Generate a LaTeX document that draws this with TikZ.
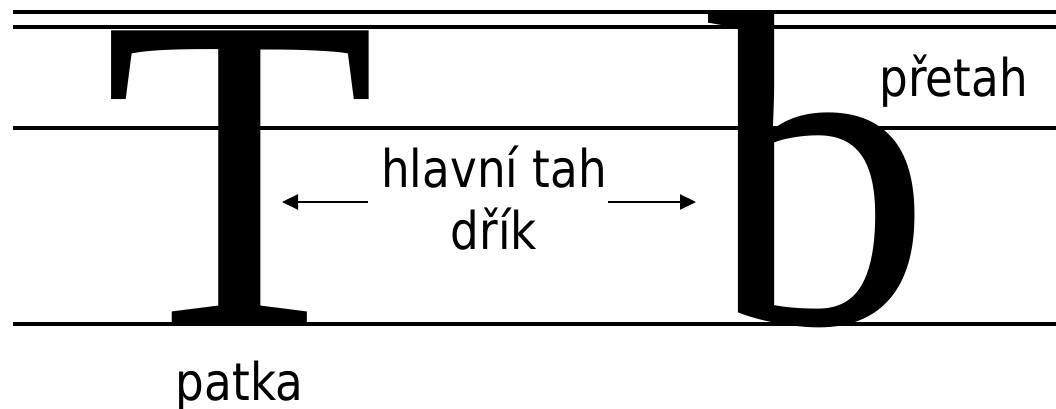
\documentclass[tikz,border=0pt]{standalone}
\usepackage{fontspec}
\usetikzlibrary{arrows.meta}
\newfontfamily\glyphfont{Liberation Serif}
\newfontfamily\lblfont[FakeStretch=0.87]{DejaVu Sans}
\begin{document}
\begin{tikzpicture}[x=1pt,y=-1pt,
  rule/.style={line width=4pt},
  big/.style={anchor=base west, inner sep=0pt, font=\fontsize{447}{447}\selectfont\glyphfont},
  lbl/.style={anchor=base, inner sep=0pt, font=\fontsize{52}{60}\selectfont\lblfont},
  arr/.style={line width=2.2pt, -{Triangle[length=16pt,width=15pt]}}]
\useasboundingbox (0,0) rectangle (1056,409);
% letters
\node[big] (T) at (103,323) {T};
\node[big] (b) at (708,323) {b};
% guide lines
\draw[rule] (13,12.5) -- (1056,12.5);
\draw[rule] (13,27) -- (1056,27);
\draw[rule] (13,127.5) -- (1056,127.5);
\draw[rule] (13,324) -- (1056,324);
% labels
\node[lbl] (hl) at (494,187) {hlavní tah};
\node[lbl] (dr) at (494,249) {dřík};
\node[lbl] (pr) at (953.5,96) {přetah};
\node[lbl] (pa) at (239.5,400) {patka};
% arrows
\coordinate (la1) at (368,202);
\coordinate (la2) at (282,202);
\coordinate (ra1) at (608,202);
\coordinate (ra2) at (696,202);
\draw[arr] (la1) -- (la2);
\draw[arr] (ra1) -- (ra2);
\end{tikzpicture}
\end{document}
